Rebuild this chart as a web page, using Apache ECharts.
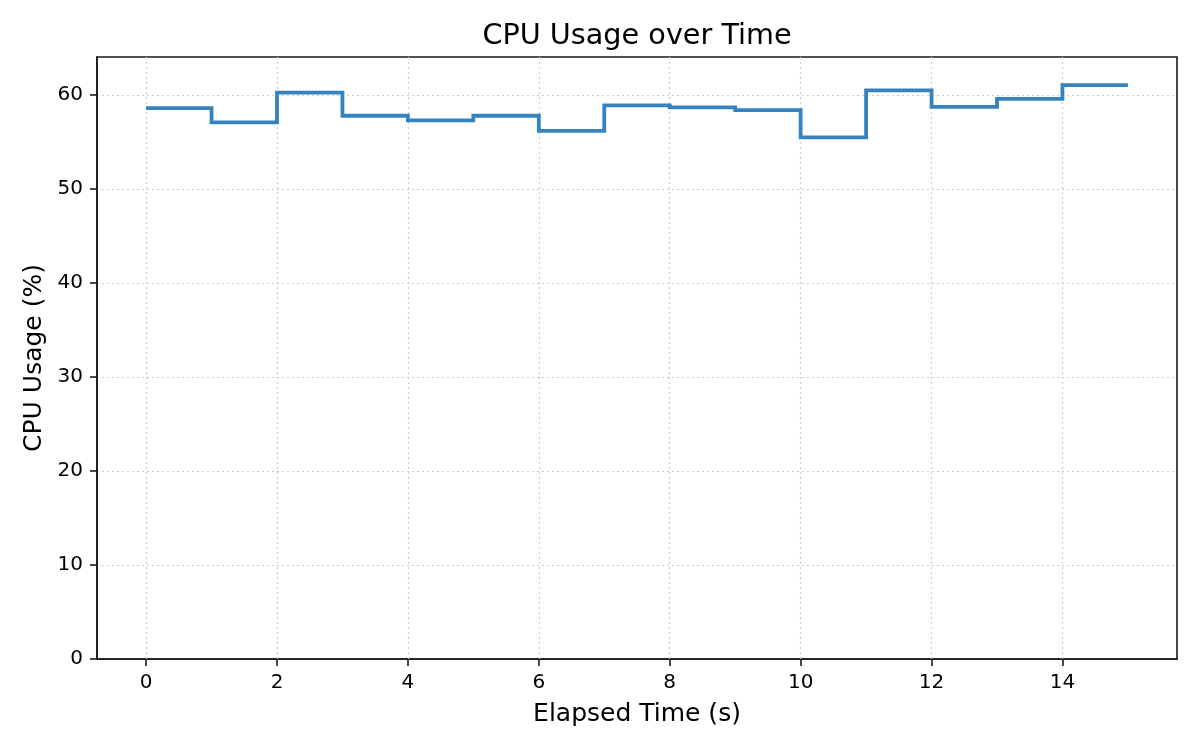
<!DOCTYPE html>
<html>
<head>
<meta charset="utf-8">
<script src="https://cdn.jsdelivr.net/npm/echarts@6/dist/echarts.min.js"></script>
<style>
  html, body { margin: 0; padding: 0; background: #fff; }
  #chart { width: 1200px; height: 750px; }
</style>
</head>
<body>
<div id="chart"></div>
<script>
// elapsed seconds and cpu usage samples (step, post)
var seconds = [0, 1, 2, 3, 4, 5, 6, 7, 8, 9, 10, 11, 12, 13, 14, 15];
var cpuUsage = [58.6, 57.1, 60.25, 57.8, 57.3, 57.8, 56.2, 58.9, 58.7, 58.4, 55.5, 60.5, 58.75, 59.6, 61.05, 61.05];
var xTicks = [0, 2, 4, 6, 8, 10, 12, 14];

// post-step: value holds until the next sample
var stepData = [];
seconds.forEach(function (s, i) {
    stepData.push([s, cpuUsage[i]]);
    if (i < seconds.length - 1) stepData.push([seconds[i + 1], cpuUsage[i]]);
});

var chart = echarts.init(document.getElementById('chart'));
var font = 'DejaVu Sans';
var gridStyle = { color: '#cccccc', width: 1.2, type: [2, 3] };

var option = {
    animation: false,
    textStyle: { fontFamily: font },
    title: {
        text: 'CPU Usage over Time',
        left: 632,
        textAlign: 'center',
        top: 17,
        textStyle: { fontFamily: font, fontSize: 28.7, fontWeight: 'normal', color: '#000' }
    },
    grid: {
        left: 97, right: 23, top: 57, bottom: 91,
        show: true, borderColor: '#1a1a1a', borderWidth: 1.6, backgroundColor: 'transparent'
    },
    xAxis: {
        type: 'value',
        min: -0.75,
        max: 15.75,
        name: 'Elapsed Time (s)',
        nameLocation: 'middle',
        nameGap: 43,
        nameTextStyle: { fontFamily: font, fontSize: 25, color: '#000' },
        axisLine: { show: true, onZero: false, lineStyle: { color: '#1a1a1a', width: 1.6 } },
        axisTick: { show: true, inside: false, length: 7, customValues: xTicks, lineStyle: { color: '#1a1a1a', width: 1.6 } },
        axisLabel: { customValues: xTicks, margin: 14, fontFamily: font, fontSize: 20, color: '#000' },
        splitLine: { show: false }
    },
    yAxis: {
        type: 'value',
        min: 0,
        max: 64.05,
        interval: 10,
        name: 'CPU Usage (%)',
        nameLocation: 'middle',
        nameGap: 50,
        nameTextStyle: { fontFamily: font, fontSize: 25, color: '#000' },
        axisLine: { show: true, onZero: false, lineStyle: { color: '#1a1a1a', width: 1.6 } },
        axisTick: { show: true, inside: false, length: 7, lineStyle: { color: '#1a1a1a', width: 1.6 } },
        axisLabel: { margin: 14, fontFamily: font, fontSize: 20, color: '#000', showMaxLabel: false },
        splitLine: { show: true, showMaxLine: false, showMinLine: false, lineStyle: gridStyle }
    },
    series: [
        {
            // vertical grid lines at the x ticks
            type: 'line',
            z: 1,
            data: [],
            markLine: {
                z: 1,
                silent: true,
                symbol: 'none',
                label: { show: false },
                lineStyle: gridStyle,
                data: xTicks.map(function (v) { return { xAxis: v }; })
            }
        },
        {
            type: 'lines',
            coordinateSystem: 'cartesian2d',
            polyline: true,
            z: 10,
            data: [{ coords: stepData }],
            lineStyle: { color: '#3483c0', width: 3.8, opacity: 1, curveness: 0, join: 'miter' }
        }
    ]
};

chart.setOption(option);
</script>
</body>
</html>
